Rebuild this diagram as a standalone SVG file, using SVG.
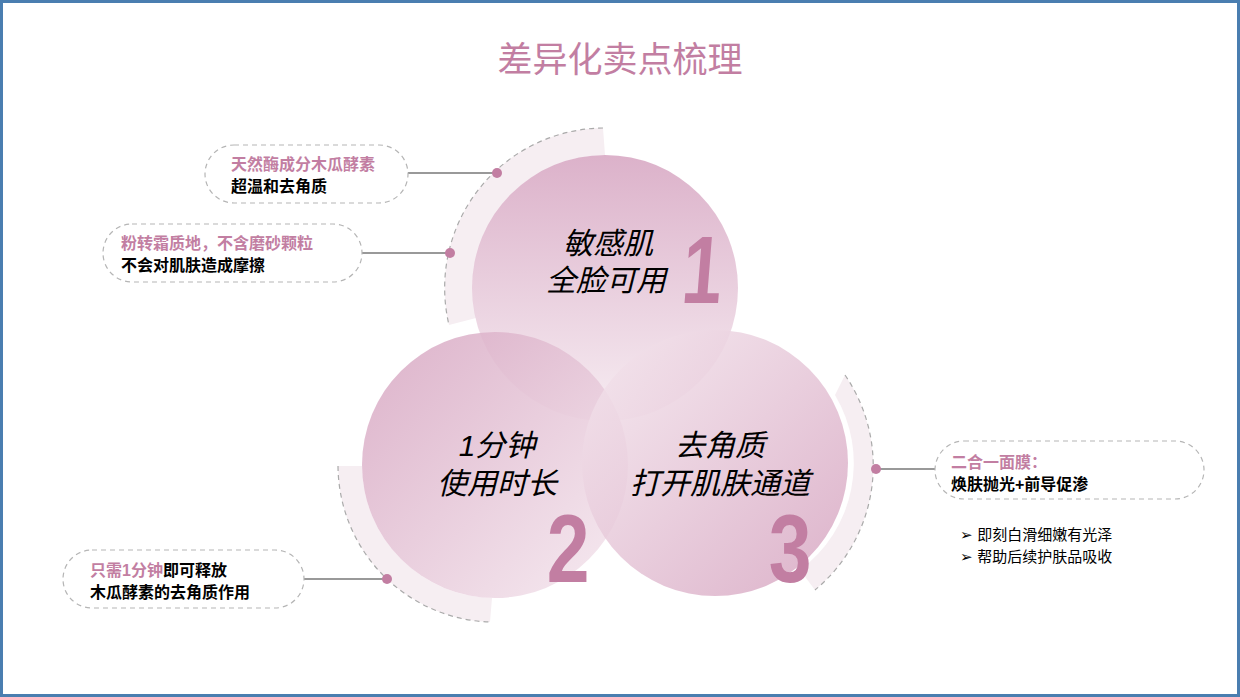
<svg xmlns="http://www.w3.org/2000/svg" width="1240" height="697" viewBox="0 0 1240 697">
<defs>
<linearGradient id="g1" x1="0" y1="0" x2="0" y2="1"><stop offset="0" stop-color="#d8a9c4"/><stop offset="1" stop-color="#f6ebf1"/></linearGradient>
<linearGradient id="g2" x1="0" y1="0" x2="1" y2="1"><stop offset="0" stop-color="#d6a4c0"/><stop offset="1" stop-color="#f5e8ef"/></linearGradient>
<linearGradient id="g3" x1="0" y1="0" x2="1" y2="1"><stop offset="0" stop-color="#f5e8ef"/><stop offset="1" stop-color="#d6a4c0"/></linearGradient>
<style>
.band{fill:#f6eef2;stroke:none}
.dash{fill:none;stroke:#aaa;stroke-width:1.2;stroke-dasharray:5 4}
.box{fill:#fff;stroke:#b5b5b5;stroke-width:1.2;stroke-dasharray:5 4}
.ln{stroke:#999;stroke-width:2}
.dot{fill:#c27ea2}
.t{font-family:"Liberation Sans","Noto Sans CJK SC",sans-serif;font-weight:bold;font-size:16px}
.pk{fill:#c27ea2}
.bk{fill:#000}
.ct{font-family:"Liberation Sans","Noto Sans CJK SC",sans-serif;font-style:italic;font-size:30px;fill:#000;text-anchor:middle}
.num{font-family:"Liberation Sans",sans-serif;font-weight:bold;font-size:96px;fill:#c27ea2;text-anchor:middle}
.bl{font-family:"Liberation Sans","Noto Sans CJK SC",sans-serif;font-size:15px;fill:#000}
</style>
</defs>
<rect x="1.5" y="1.5" width="1237" height="694" fill="#fff" stroke="#4a7eb0" stroke-width="3"/>
<text x="620" y="72" text-anchor="middle" font-family="'Liberation Sans','Noto Sans CJK SC',sans-serif" font-size="35" fill="#c27ea2">差异化卖点梳理</text>
<g id="bands">
<path class="band" d="M603,128 A160,160 0 0 0 449,325 L476,318 A133,133 0 0 1 605,155 Z"/>
<path class="dash" d="M603,128 A160,160 0 0 0 449,325"/>
<path class="band" d="M338,466 A157,157 0 0 0 490,622 L492,598 A133,133 0 0 1 362,466 Z"/>
<path class="dash" d="M338,466 A157,157 0 0 0 490,622"/>
<path class="band" d="M845,375 A161,161 0 0 1 815,590 L800,570 A133,133 0 0 0 835,395 Z"/>
<path class="dash" d="M845,375 A161,161 0 0 1 815,590"/>
</g>
<g id="n1"><circle cx="605" cy="288" r="133" fill="url(#g1)" opacity="0.9"/>
<text class="ct" x="608" y="254">敏感肌</text><text class="ct" x="606" y="291">全脸可用</text>
<text class="num" transform="translate(700,303) scale(0.75,1) skewX(-6)" x="0" y="0">1</text></g>
<g id="n2"><circle cx="495" cy="465" r="133" fill="url(#g2)" opacity="0.85"/>
<text class="ct" x="497" y="456">1分钟</text><text class="ct" x="497" y="494">使用时长</text>
<text class="num" transform="translate(568,582) scale(0.8,1)" x="0" y="0">2</text></g>
<g id="n3"><circle cx="715" cy="463" r="133" fill="url(#g3)" opacity="0.85"/>
<text class="ct" x="720" y="456">去角质</text><text class="ct" x="720" y="494">打开肌肤通道</text>
<text class="num" transform="translate(790,582) scale(0.8,1)" x="0" y="0">3</text></g>
<g id="connectors">
<line class="ln" x1="408" y1="173" x2="497" y2="173"/><circle class="dot" cx="497" cy="173" r="5"/>
<line class="ln" x1="362" y1="253" x2="450" y2="253"/><circle class="dot" cx="450" cy="253" r="5"/>
<line class="ln" x1="304" y1="579" x2="387" y2="579"/><circle class="dot" cx="387" cy="579" r="5"/>
<line class="ln" x1="876" y1="469" x2="935" y2="469"/><circle class="dot" cx="876" cy="469" r="5"/>
</g>
<g id="c1"><rect class="box" x="205" y="145" width="203" height="58" rx="29"/>
<text class="t pk" x="231" y="170">天然酶成分木瓜酵素</text><text class="t bk" x="231" y="192">超温和去角质</text></g>
<g id="c2"><rect class="box" x="103" y="224" width="259" height="58" rx="29"/>
<text class="t pk" x="121" y="249">粉转霜质地，不含磨砂颗粒</text><text class="t bk" x="121" y="271">不会对肌肤造成摩擦</text></g>
<g id="c4"><rect class="box" x="63" y="550" width="241" height="58" rx="29"/>
<text class="t" x="90" y="576"><tspan class="pk">只需1分钟</tspan><tspan class="bk">即可释放</tspan></text><text class="t bk" x="90" y="598">木瓜酵素的去角质作用</text></g>
<g id="c3"><rect class="box" x="935" y="441" width="269" height="58" rx="29"/>
<text class="t pk" x="951" y="468">二合一面膜：</text><text class="t bk" x="951" y="490">焕肤抛光+前导促渗</text></g>
<g id="bullets">
<text class="bl" x="960" y="540">➢ 即刻白滑细嫩有光泽</text>
<text class="bl" x="960" y="562">➢ 帮助后续护肤品吸收</text>
</g>
</svg>
